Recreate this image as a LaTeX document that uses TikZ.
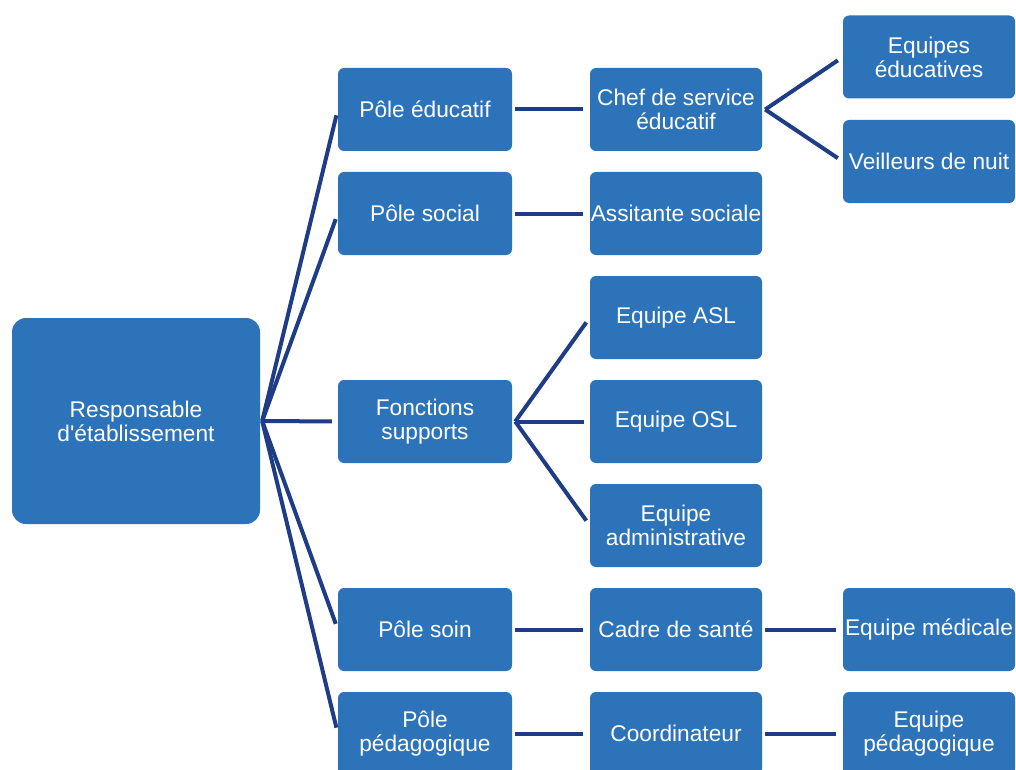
\documentclass[tikz,border=0pt]{standalone}
\usepackage{fontspec}
\setmainfont{Liberation Sans}
\definecolor{boxblue}{HTML}{2C73BA}
\definecolor{linenavy}{HTML}{1F3D86}
\tikzset{
  orgbox/.style={draw=none, fill=boxblue, rounded corners=6pt, text=white,
    minimum width=172pt, minimum height=83pt, inner sep=0pt, align=center,
    font=\fontsize{22.7}{24}\selectfont},
  rootbox/.style={orgbox, minimum width=248pt, minimum height=206pt, rounded corners=14pt},
  link/.style={draw=linenavy, line width=4pt, shorten >=6pt},
  hlink/.style={draw=linenavy, line width=4pt, shorten <=3pt, shorten >=7pt}
}
\begin{document}
\begin{tikzpicture}[x=1pt,y=-1pt]
\useasboundingbox (0,0) rectangle (1016,770);
\clip (0,0) rectangle (1016,770);
\fill[white] (0,0) rectangle (1016,770);
% root
\node[rootbox] (root) at (136,421) {Responsable\\d\textquotesingle établissement};
% column 1
\node[orgbox, minimum width=174pt] (educ) at (425,109.5) {Pôle éducatif};
\node[orgbox, minimum width=174pt] (soc) at (425,213.5) {Pôle social};
\node[orgbox, minimum width=174pt] (fonc) at (425,421.5) {Fonctions\\supports};
\node[orgbox, minimum width=174pt] (soin) at (425,629.5) {Pôle soin};
\node[orgbox, minimum width=174pt] (peda) at (425,733.5) {Pôle\\pédagogique};
% column 2
\node[orgbox] (chef) at (676,109.5) {Chef de service\\éducatif};
\node[orgbox] (assit) at (676,213.5) {Assitante sociale};
\node[orgbox] (asl) at (676,317.5) {Equipe ASL};
\node[orgbox] (osl) at (676,421.5) {Equipe OSL};
\node[orgbox] (admin) at (676,525.5) {Equipe\\administrative};
\node[orgbox] (cadre) at (676,629.5) {Cadre de santé};
\node[orgbox] (coord) at (676,733.5) {Coordinateur};
% column 3
\node[orgbox] (eqedu) at (929,57) {Equipes\\éducatives};
\node[orgbox] (veil) at (929,161.5) {Veilleurs de nuit};
\node[orgbox] (eqmed) at (929,629.5) {Equipe médicale};
\node[orgbox] (eqped) at (929,733.5) {Equipe\\pédagogique};
% connectors from root
\foreach \t in {educ,soc,fonc,soin,peda}
  \draw[link] ([xshift=2pt]root.east) -- (\t.west);
% column 1 to column 2
\draw[hlink] (educ.east) -- (chef.west);
\draw[hlink] (soc.east) -- (assit.west);
\draw[hlink] (soin.east) -- (cadre.west);
\draw[hlink] (peda.east) -- (coord.west);
\foreach \t in {asl,osl,admin}
  \draw[link] ([xshift=3pt]fonc.east) -- (\t.west);
% column 2 to column 3
\draw[link] ([xshift=3pt]chef.east) -- (eqedu.west);
\draw[link] ([xshift=3pt]chef.east) -- (veil.west);
\draw[hlink] (cadre.east) -- (eqmed.west);
\draw[hlink] (coord.east) -- (eqped.west);
\end{tikzpicture}
\end{document}
